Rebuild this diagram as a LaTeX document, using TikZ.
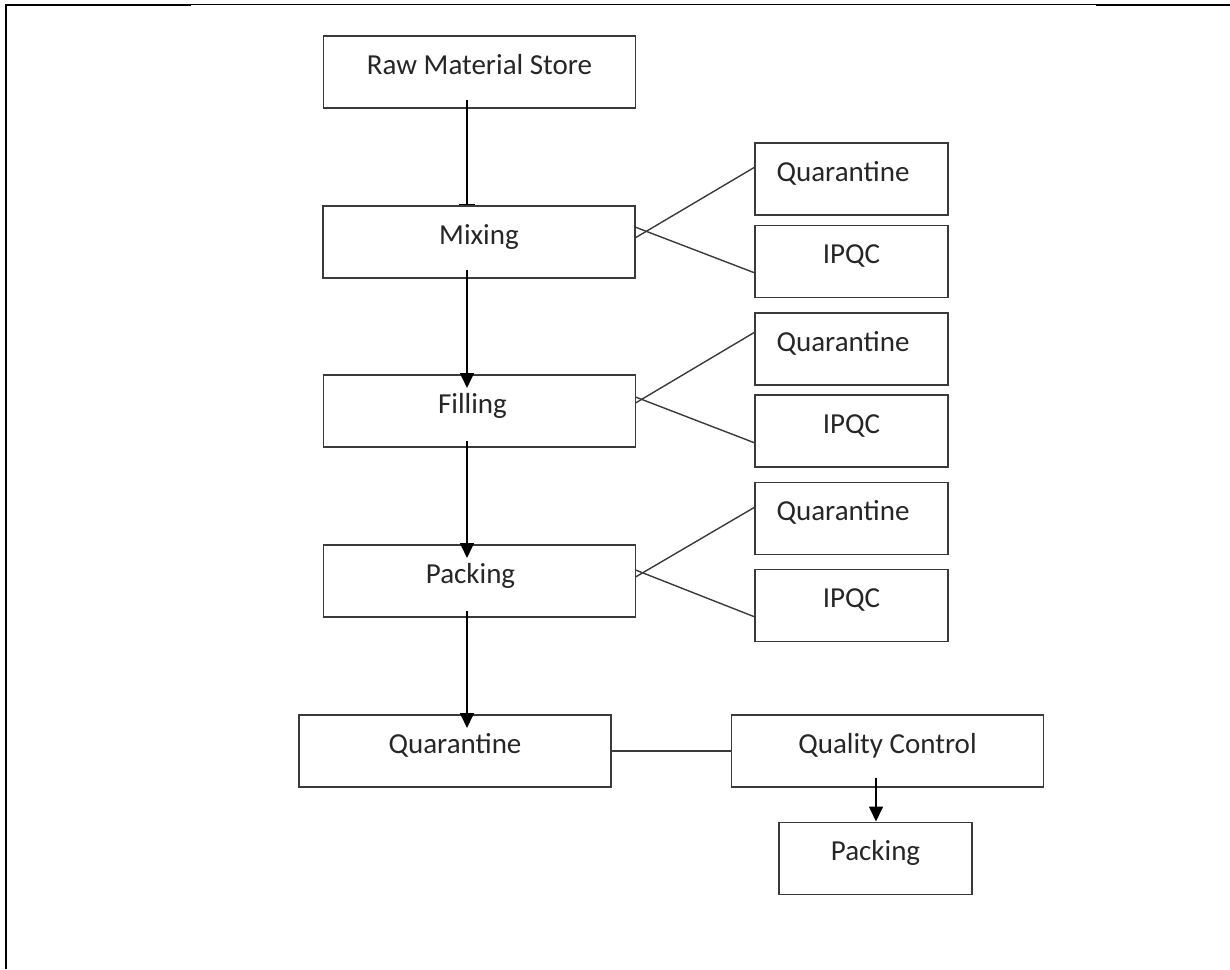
\documentclass[tikz,border=0pt]{standalone}
\usepackage{fontspec}
\setmainfont{Carlito}
\usetikzlibrary{arrows.meta}
\definecolor{ink}{HTML}{262626}
\definecolor{edge}{HTML}{3A3A3A}
\begin{document}
\begin{tikzpicture}[x=1pt,y=-1pt,
  box/.style={draw=edge, line width=1.8pt, outer sep=0pt, inner sep=0pt,
    minimum height=72pt, text height=38pt, text depth=34pt,
    text=ink, font=\fontsize{29}{35}\selectfont},
  wide/.style={box, minimum width=312pt},
  narrow/.style={box, minimum width=193pt},
  link/.style={draw=edge, line width=1.4pt},
  flow/.style={draw=black, line width=1.6pt, -{Triangle[length=15pt,width=14pt]}},
  stub/.style={draw=black, line width=1.6pt, -{Bar[width=16pt,line width=1.4pt]}}]
\useasboundingbox (0,0) rectangle (1230,969);

% page frame
\draw[line width=2.5pt] (6,4) -- (6,969);
\draw[line width=2pt] (5,5) -- (191,5);
\draw[line width=0.9pt] (191,4.5) -- (1096,4.5);
\draw[line width=2pt] (1096,5) -- (1230,5);

% main process chain
\node[wide] (raw)  at (479.5,72)  {Raw Material Store};
\node[wide] (mix)  at (479,242)   {Mixing};
\node[wide] (fill) at (479.5,411) {Filling\kern14pt};
\node[wide] (pack) at (479.5,581) {Packing\kern18pt};
\node[wide] (quar) at (455,751)   {Quarantine};
\node[wide] (qc)   at (887.5,751) {Quality Control};
\node[narrow] (fpack) at (875.5,858.5) {Packing};

% side checks
\node[narrow] (q1) at (851.5,179)   {Quarantine\kern17pt};
\node[narrow] (i1) at (851.5,261.5) {IPQC};
\node[narrow] (q2) at (851.5,349)   {Quarantine\kern17pt};
\node[narrow] (i2) at (851.5,431)   {IPQC};
\node[narrow] (q3) at (851.5,518.5) {Quarantine\kern17pt};
\node[narrow] (i3) at (851.5,605.5) {IPQC};

% vertical flow
\draw[stub] ([xshift=-12.5pt,yshift=8pt]raw.south) -- ([xshift=-12pt,yshift=1pt]mix.north);
\draw[flow] ([xshift=-12pt,yshift=8pt]mix.south) -- ([xshift=-12.5pt,yshift=-13pt]fill.north);
\draw[flow] ([xshift=-12.5pt,yshift=6pt]fill.south) -- ([xshift=-12.5pt,yshift=-13pt]pack.north);
\draw[flow] ([xshift=-12.5pt,yshift=6pt]pack.south) -- ([xshift=12pt,yshift=-13pt]quar.north);
\draw[link] (quar.east) -- (qc.west);
\draw[flow] ([xshift=-11.5pt,yshift=9pt]qc.south) -- ([xshift=0.5pt,yshift=1pt]fpack.north);

% branches to the side checks
\draw[link] ([yshift=4pt]mix.east)   -- ([yshift=12pt]q1.west);
\draw[link] ([yshift=15pt]mix.east)  -- ([yshift=-11.5pt]i1.west);
\draw[link] ([yshift=8pt]fill.east)  -- ([yshift=17pt]q2.west);
\draw[link] ([yshift=14pt]fill.east) -- ([yshift=-12pt]i2.west);
\draw[link] ([yshift=4pt]pack.east)  -- ([yshift=11.5pt]q3.west);
\draw[link] ([yshift=11pt]pack.east) -- ([yshift=-11.5pt]i3.west);
\end{tikzpicture}
\end{document}
